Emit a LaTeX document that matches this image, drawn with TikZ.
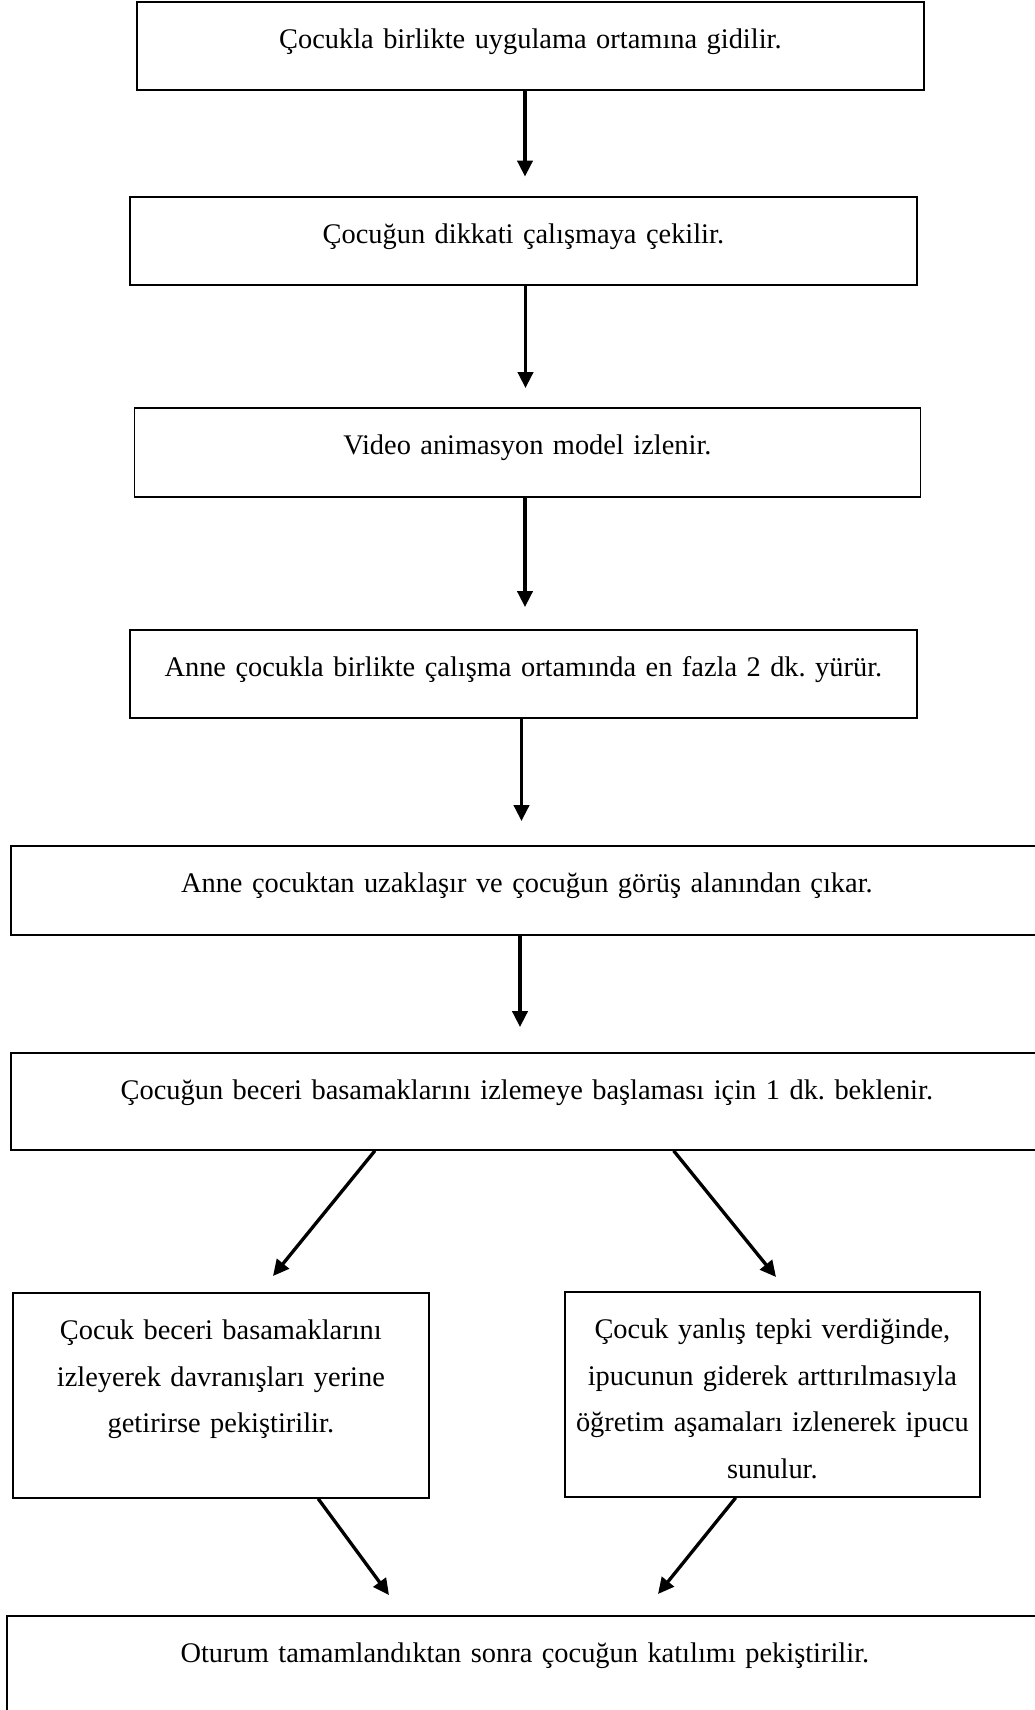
\documentclass[tikz,border=0pt]{standalone}
\usepackage{fontspec}
\setmainfont{Liberation Serif}
\usetikzlibrary{arrows.meta,calc}
\frenchspacing

\begin{document}
\begin{tikzpicture}[x=0.75pt,y=0.75pt,yscale=-1,xscale=1,
  kutu/.style={draw, line width=1.3pt, inner sep=0pt, anchor=north west, align=center,
    font=\fontsize{21.3pt}{34.9pt}\selectfont, text height=35pt},
  ok/.style={line width=2.5pt, -{Triangle[length=12pt,width=11.5pt]}}]
  \useasboundingbox (0,0) rectangle (1035,1710);

  %Shape: Rectangle [b1]
  \node[kutu, text width=590.25pt, text depth=31pt] (b1) at (136,1) {Çocukla birlikte uygulama ortamına gidilir.};
  %Shape: Rectangle [b2]
  \node[kutu, text width=590.25pt, text depth=31pt] (b2) at (129,196) {Çocuğun dikkati çalışmaya çekilir.};
  %Shape: Rectangle [b3]
  \node[kutu, text width=589.5pt, text depth=31.75pt] (b3) at (133.5,407) {Video animasyon model izlenir.};
  %Shape: Rectangle [b4]
  \node[kutu, text width=590.25pt, text depth=31pt] (b4) at (129,629) {Anne çocukla birlikte çalışma ortamında en fazla 2 dk. yürür.};
  %Shape: Rectangle [b5]
  \node[kutu, text width=774pt, text depth=31.75pt] (b5) at (10,845) {Anne çocuktan uzaklaşır ve çocuğun görüş alanından çıkar.};
  %Shape: Rectangle [b6]
  \node[kutu, text width=774pt, text depth=37.75pt] (b6) at (10,1052) {Çocuğun beceri basamaklarını izlemeye başlaması için 1 dk. beklenir.};
  %Shape: Rectangle [b7l]
  \node[kutu, text width=312pt, text depth=118.75pt] (b7l) at (12,1292) {Çocuk beceri basamaklarını\\ izleyerek davranışları yerine\\ getirirse pekiştirilir.};
  %Shape: Rectangle [b7r]
  \node[kutu, text width=311.25pt, text depth=118.75pt] (b7r) at (564,1291) {Çocuk yanlış tepki verdiğinde,\\ ipucunun giderek arttırılmasıyla\\ öğretim aşamaları izlenerek ipucu\\ sunulur.};
  %Shape: Rectangle [b8]
  \node[kutu, text width=777pt, text depth=43.75pt] (b8) at (6,1615) {Oturum tamamlandıktan sonra çocuğun katılımı pekiştirilir.};

  %Arrow tips
  \coordinate (t1) at (525,176.5);
  \coordinate (t2) at (525.5,388);
  \coordinate (t3) at (525,607);
  \coordinate (t4) at (521.5,821);
  \coordinate (t5) at (520,1027);
  \coordinate (t6l) at (273,1276);
  \coordinate (t6r) at (776,1277);
  \coordinate (t7l) at (389,1595);
  \coordinate (t7r) at (658,1594);

  %Straight Lines
  \draw[ok] (b1.south -| t1) -- (t1);
  \draw[ok] (b2.south -| t2) -- (t2);
  \draw[ok] (b3.south -| t3) -- (t3);
  \draw[ok] (b4.south -| t4) -- (t4);
  \draw[ok] (b5.south -| t5) -- (t5);
  \draw[ok] ($(b6.south west)!0.353!(b6.south east)$) -- (t6l);
  \draw[ok] ($(b6.south west)!0.642!(b6.south east)$) -- (t6r);
  \draw[ok] ($(b7l.south west)!0.733!(b7l.south east)$) -- (t7l);
  \draw[ok] ($(b7r.south west)!0.412!(b7r.south east)$) -- (t7r);

\end{tikzpicture}
\end{document}
